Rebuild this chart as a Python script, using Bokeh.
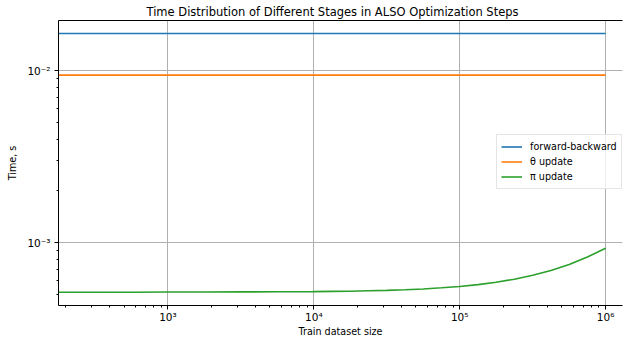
from bokeh.plotting import figure
from bokeh.models import FixedTicker, LogAxis, Legend, LegendItem, Range1d
from bokeh.embed import file_html
from bokeh.resources import INLINE

# ---- data ----
dataset_size = [177.8, 316.2, 562.3, 1000, 1778, 3162, 5623, 10000, 13335,
                17783, 23714, 31623, 42170, 56234, 74989, 100000, 133352,
                177828, 237137, 316228, 421697, 562341, 749894, 1000000]
fb_time = [0.01648, 0.01648, 0.01648, 0.01648, 0.01648, 0.01648, 0.01648, 0.01648,
           0.01648, 0.01648, 0.01648, 0.01648, 0.01648, 0.01648, 0.01648, 0.01648,
           0.01648, 0.01648, 0.01648, 0.01648, 0.01648, 0.01648, 0.01648, 0.01648]
theta_time = [0.00944, 0.00944, 0.00944, 0.00944, 0.00944, 0.00944, 0.00944, 0.00944,
              0.00944, 0.00944, 0.00944, 0.00944, 0.00944, 0.00944, 0.00944, 0.00944,
              0.00944, 0.00944, 0.00944, 0.00944, 0.00944, 0.00944, 0.00944, 0.00944]
pi_time = [5.14e-4, 5.14e-4, 5.14e-4, 5.15e-4, 5.15e-4, 5.16e-4, 5.17e-4, 5.18e-4, 5.20e-4,
           5.21e-4, 5.24e-4, 5.27e-4, 5.31e-4, 5.37e-4, 5.45e-4, 5.55e-4, 5.69e-4,
           5.87e-4, 6.12e-4, 6.45e-4, 6.88e-4, 7.46e-4, 8.24e-4, 9.27e-4]

series_labels = ["forward-backward", "\u03b8 update", "\u03c0 update"]
series_colors = ["#1f77b4", "#ff7f0e", "#2ca02c"]

x_major = [1e3, 1e4, 1e5, 1e6]
x_major_labels = ["10\u00b3", "10\u2074", "10\u2075", "10\u2076"]
x_minor = [m * 10 ** e for e in range(2, 7) for m in range(2, 10)]
y_major = [1e-3, 1e-2]
y_major_labels = ["10\u207b\u00b3", "10\u207b\u00b2"]
y_minor = [m * 10 ** e for e in (-4, -3, -2) for m in range(2, 10)]

FONT = "DejaVu Sans"

p = figure(width=623, height=339, x_axis_type="log", y_axis_type="log",
           x_range=Range1d(177.8, 1.305e6), y_range=Range1d(4.30e-4, 0.01963),
           output_backend="svg", toolbar_location=None, tools="",
           min_border_left=58, min_border_right=1, min_border_top=20, min_border_bottom=32)
p.outline_line_color = "white"
p.outline_line_width = 1
p.background_fill_color = "white"
p.border_fill_color = "white"

p.title.text = "Time Distribution of Different Stages in ALSO Optimization Steps"
p.title.text_font = FONT
p.title.text_font_size = "11.5px"
p.title.text_font_style = "normal"
p.title.text_color = "black"
p.title.align = "left"
p.title.offset = 88
p.title.standoff = 4

xa = p.xaxis[0]
xa.ticker = FixedTicker(ticks=x_major, minor_ticks=x_minor)
xa.major_label_overrides = dict(zip(x_major, x_major_labels))
xa.axis_label = "Train dataset size"
ya = p.yaxis[0]
ya.ticker = FixedTicker(ticks=y_major, minor_ticks=y_minor)
ya.major_label_overrides = dict(zip(y_major, y_major_labels))
ya.axis_label = "Time, s"

for ax in (xa, ya):
    ax.axis_line_color = "black"
    ax.axis_line_width = 1
    ax.major_tick_line_color = "black"
    ax.minor_tick_line_color = "black"
    ax.major_tick_in = 0
    ax.major_tick_out = 4
    ax.minor_tick_in = 0
    ax.minor_tick_out = 2
    ax.major_label_text_font = FONT
    ax.major_label_text_font_size = "10.5px"
    ax.major_label_text_color = "black"
    ax.axis_label_text_font = FONT
    ax.axis_label_text_font_size = "9.6px"
    ax.axis_label_text_font_style = "normal"
    ax.axis_label_text_color = "black"
xa.major_label_standoff = 1
xa.axis_label_standoff = 0
ya.major_label_standoff = 4
ya.axis_label_standoff = 6

top = LogAxis(ticker=FixedTicker(ticks=[]), major_label_text_font_size="0px",
              major_tick_line_color=None, minor_tick_line_color=None,
              axis_line_color="black", axis_line_width=1)
p.add_layout(top, "above")

p.xgrid.ticker = FixedTicker(ticks=x_major)
p.ygrid.ticker = FixedTicker(ticks=y_major)
for g in (p.xgrid[0], p.ygrid[0]):
    g.grid_line_color = "#b0b0b0"
    g.grid_line_width = 1

renderers = []
for ys, c in zip([fb_time, theta_time, pi_time], series_colors):
    renderers.append(p.line(dataset_size, ys, line_color=c, line_width=1.6))

legend = Legend(items=[LegendItem(label=l, renderers=[r]) for l, r in zip(series_labels, renderers)],
                location=(438, 116), orientation="vertical")
legend.label_text_font = FONT
legend.label_text_font_size = "9.6px"
legend.label_text_color = "black"
legend.label_height = 15
legend.glyph_height = 15
legend.glyph_width = 21
legend.label_standoff = 8
legend.spacing = 0
legend.padding = 4
legend.margin = 0
legend.border_line_color = "#cccccc"
legend.border_line_width = 1
legend.background_fill_color = "white"
legend.background_fill_alpha = 0.8
p.add_layout(legend, "center")

open("out.html", "w").write(file_html(p, INLINE))
